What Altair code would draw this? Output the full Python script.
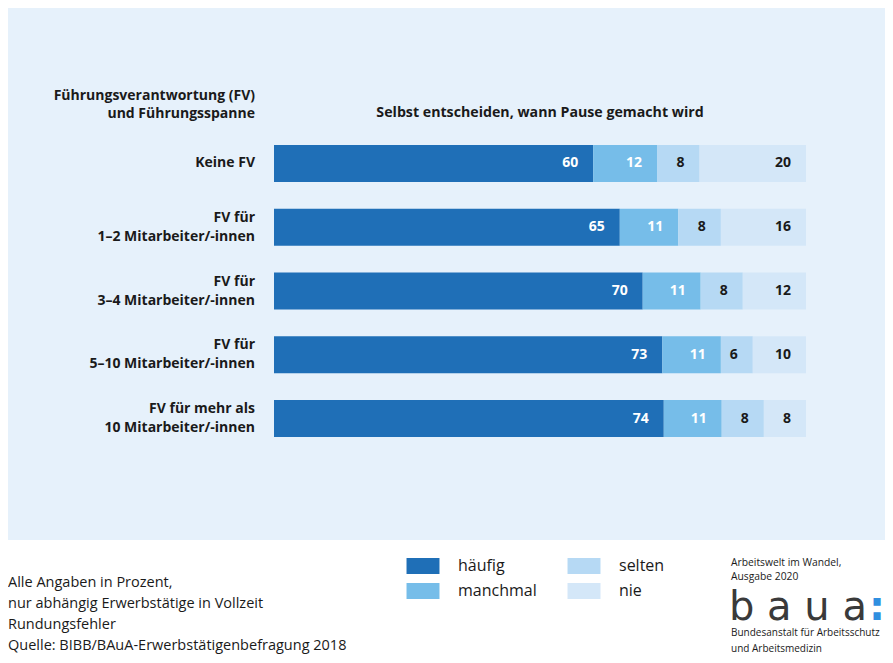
import altair as alt
import pandas as pd

# ---------------- data ----------------
categories = [
    "Keine FV",
    "FV für\n1–2 Mitarbeiter/-innen",
    "FV für\n3–4 Mitarbeiter/-innen",
    "FV für\n5–10 Mitarbeiter/-innen",
    "FV für mehr als\n10 Mitarbeiter/-innen",
]
answers = ["häufig", "manchmal", "selten", "nie"]
haeufig = [60, 65, 70, 73, 74]
manchmal = [12, 11, 11, 11, 11]
selten = [8, 8, 8, 6, 8]
nie = [20, 16, 12, 10, 8]

answer_colors = ["#1f6fb7", "#76bde9", "#b6d9f4", "#d4e7f8"]
legend_order = ["häufig", "selten", "manchmal", "nie"]

header_left = "Führungsverantwortung (FV)\nund Führungsspanne"
header_title = "Selbst entscheiden, wann Pause gemacht wird"
footer_left = ("Alle Angaben in Prozent,\nnur abhängig Erwerbstätige in Vollzeit\n"
               "Rundungsfehler\nQuelle: BIBB/BAuA-Erwerbstätigenbefragung 2018")
footer_right_top = "Arbeitswelt im Wandel,\nAusgabe 2020"
logo_text = "b a u a"
logo_sub = "Bundesanstalt für Arbeitsschutz\nund Arbeitsmedizin"

series = {"häufig": haeufig, "manchmal": manchmal, "selten": selten, "nie": nie}
rows = []
for i, c in enumerate(categories):
    for k, a in enumerate(answers):
        rows.append({"cat": c, "answer": a, "ord": k, "value": series[a][i]})
df = pd.DataFrame(rows)

FONT = "Open Sans"
BG = "#e6f1fb"
DARK = "#1a1a1a"

color_map = dict(zip(answers, answer_colors))
color_scale = alt.Scale(domain=legend_order, range=[color_map[a] for a in legend_order])
x_scale = alt.Scale(domain=[0, 1], range=[266, 798])
y_scale = alt.Scale(domain=categories, range=[123.6, 442.4], paddingInner=0.42, paddingOuter=0.21)
Y = alt.Y("cat:N", scale=y_scale, axis=None, sort=categories)

base = alt.Chart(df).transform_stack(
    stack="value", groupby=["cat"], as_=["v0", "v1"], offset="normalize",
    sort=[alt.SortField("ord", order="ascending")],
)

one = pd.DataFrame({"k": [0]})

bg = alt.Chart(one).mark_rect(color=BG).encode(
    x=alt.value(0), x2=alt.value(877), y=alt.value(0), y2=alt.value(532)
)

bars = base.mark_bar().encode(
    x=alt.X("v0:Q", scale=x_scale, axis=None),
    x2="v1:Q",
    y=Y,
    color=alt.Color(
        "answer:N", scale=color_scale,
        legend=alt.Legend(
            title=None, orient="none", legendX=407, legendY=550, columns=2,
            direction="horizontal",
            symbolType="M-2.06,-1H2.06V1H-2.06Z", symbolSize=256,
            symbolStrokeWidth=0, symbolOpacity=1,
            labelFont=FONT, labelFontSize=16, labelColor=DARK,
            labelOffset=27, columnPadding=30, rowPadding=9, padding=0,
        ),
    ),
)

values = base.mark_text(
    align="right", baseline="middle", dx=-15, font=FONT, fontSize=14, fontWeight="bold"
).encode(
    x=alt.X("v1:Q", scale=x_scale, axis=None),
    y=Y,
    text="value:Q",
    color=alt.condition("datum.ord < 2", alt.value("white"), alt.value(DARK)),
)

lbl_base = alt.Chart(df).transform_filter("datum.ord == 0")
lbl_kw = dict(align="right", baseline="middle", lineBreak="\n", lineHeight=19,
              font=FONT, fontSize=14, fontWeight="bold", color=DARK)
cat_multi = lbl_base.transform_filter("indexof(datum.cat, '\\n') >= 0").mark_text(
    dy=-9.5, **lbl_kw).encode(x=alt.value(247), y=Y, text="cat:N")
cat_single = lbl_base.transform_filter("indexof(datum.cat, '\\n') < 0").mark_text(
    **lbl_kw).encode(x=alt.value(247), y=Y, text="cat:N")


def note(text, x, y, size, align="left", baseline="top", weight="normal",
         color=DARK, line_height=None, font=FONT):
    kw = dict(align=align, baseline=baseline, font=font, fontSize=size,
              fontWeight=weight, color=color, lineBreak="\n")
    if line_height:
        kw["lineHeight"] = line_height
    return alt.Chart(pd.DataFrame({"t": [text]})).mark_text(**kw).encode(
        x=alt.value(x), y=alt.value(y), text="t:N"
    )


texts = [
    note(header_left, 247, 88, 14, align="right", baseline="middle", weight="bold", line_height=18),
    note(header_title, 532, 105, 14.2, align="center", baseline="middle", weight="bold"),
    note(footer_left, 0, 568, 14.5, line_height=21),
    note(footer_right_top, 723, 550, 10.3, line_height=13.5),
    note(logo_text, 721, 612, 40, baseline="alphabetic", color="#3a3a3a", font="DejaVu Sans"),
    note(":", 861, 612, 40, baseline="alphabetic", color="#2f8fe0", font="DejaVu Sans", weight="bold"),
    note(logo_sub, 723, 620, 10, line_height=15.5),
]

chart = alt.layer(bg, bars, values, cat_multi, cat_single, *texts).properties(
    width=877, height=647, autosize=alt.AutoSizeParams(type="none"), padding=0,
    background="white",
).configure_view(stroke=None)

chart.save("out.html", embed_options={"renderer": "svg", "actions": False})
